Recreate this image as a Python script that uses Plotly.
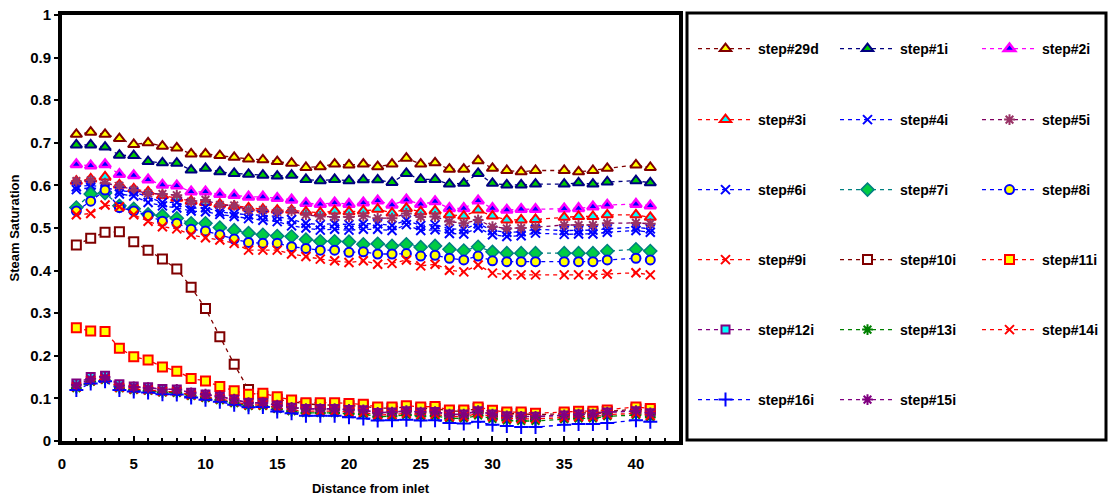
import plotly.graph_objects as go

# distance positions with markers (34 and 39 have no points)
x_pos = list(range(1, 34)) + [35, 36, 37, 38, 40, 41]

names = ["step#29d", "step#1i", "step#2i", "step#3i", "step#4i", "step#5i",
         "step#6i", "step#7i", "step#8i", "step#9i", "step#10i", "step#11i",
         "step#12i", "step#13i", "step#14i", "step#16i", "step#15i"]

step29d = [0.720,0.725,0.720,0.710,0.696,0.700,0.692,0.688,0.674,0.674,0.670,0.666,0.662,0.660,
           0.656,0.652,0.642,0.644,0.650,0.648,0.650,0.644,0.650,0.664,0.650,0.653,0.638,0.638,
           0.658,0.640,0.635,0.632,0.635, 0.635,0.632,0.635,0.640, 0.648,0.642]
step1i = [0.695,0.695,0.690,0.671,0.670,0.656,0.653,0.652,0.636,0.640,0.632,0.628,0.626,0.624,
          0.622,0.624,0.614,0.611,0.614,0.611,0.613,0.613,0.607,0.628,0.614,0.614,0.603,0.605,
          0.628,0.605,0.601,0.601,0.603, 0.603,0.606,0.603,0.608, 0.611,0.606]
step2i = [0.649,0.646,0.649,0.626,0.623,0.613,0.601,0.599,0.585,0.585,0.579,0.577,0.573,0.573,
          0.570,0.566,0.558,0.556,0.559,0.556,0.559,0.564,0.554,0.566,0.556,0.562,0.546,0.546,
          0.564,0.546,0.542,0.544,0.544, 0.545,0.546,0.550,0.554, 0.556,0.552]
step3i = [0.610,0.615,0.620,0.601,0.592,0.585,0.576,0.570,0.563,0.560,0.556,0.551,0.547,0.544,
          0.542,0.542,0.538,0.536,0.540,0.538,0.540,0.544,0.535,0.546,0.538,0.540,0.531,0.528,
          0.542,0.528,0.519,0.519,0.520, 0.525,0.527,0.527,0.531, 0.531,0.525]
step4i = [0.597,0.600,0.595,0.587,0.585,0.573,0.560,0.560,0.546,0.548,0.538,0.534,0.531,0.530,
          0.527,0.520,0.511,0.508,0.510,0.508,0.510,0.510,0.506,0.518,0.506,0.508,0.498,0.497,
          0.510,0.494,0.490,0.491,0.497, 0.494,0.494,0.495,0.498, 0.502,0.498]
step5i = [0.610,0.612,0.605,0.599,0.589,0.581,0.580,0.577,0.562,0.566,0.554,0.553,0.542,0.542,
          0.538,0.540,0.531,0.527,0.526,0.526,0.528,0.523,0.523,0.534,0.526,0.527,0.515,0.511,
          0.519,0.503,0.499,0.500,0.502, 0.507,0.507,0.507,0.511, 0.512,0.510]
step6i = [0.590,0.595,0.590,0.580,0.575,0.560,0.552,0.547,0.540,0.538,0.532,0.527,0.522,0.518,
          0.515,0.505,0.500,0.495,0.497,0.495,0.497,0.497,0.494,0.508,0.494,0.496,0.487,0.486,
          0.500,0.484,0.480,0.482,0.488, 0.485,0.486,0.486,0.490, 0.494,0.490]
step7i = [0.548,0.580,0.582,0.552,0.545,0.532,0.529,0.523,0.511,0.511,0.501,0.495,0.488,0.484,
          0.481,0.480,0.473,0.469,0.469,0.468,0.462,0.463,0.458,0.462,0.455,0.458,0.450,0.447,
          0.456,0.444,0.441,0.441,0.441, 0.441,0.441,0.441,0.446, 0.450,0.446]
step8i = [0.540,0.563,0.589,0.548,0.540,0.529,0.516,0.511,0.497,0.493,0.484,0.474,0.466,0.464,
          0.464,0.456,0.452,0.448,0.448,0.443,0.444,0.439,0.439,0.440,0.434,0.436,0.429,0.425,
          0.434,0.423,0.421,0.421,0.421, 0.421,0.421,0.421,0.425, 0.429,0.425]
step9i = [0.531,0.534,0.554,0.550,0.531,0.516,0.503,0.498,0.484,0.477,0.472,0.464,0.448,0.448,
          0.448,0.439,0.433,0.427,0.423,0.419,0.423,0.415,0.417,0.425,0.411,0.415,0.401,0.397,
          0.413,0.394,0.390,0.390,0.390, 0.390,0.390,0.390,0.392, 0.395,0.390]
step10i = [0.460,0.476,0.490,0.491,0.468,0.448,0.427,0.404,0.361,0.311,0.245,0.180,0.121,0.105,
           0.098,0.092,0.087,0.085,0.084,0.083,0.082,0.077,0.077,0.080,0.076,0.077,0.070,0.070,
           0.076,0.068,0.064,0.064,0.062, 0.064,0.066,0.066,0.069, 0.075,0.072]
step11i = [0.266,0.258,0.257,0.218,0.198,0.190,0.174,0.164,0.147,0.141,0.128,0.118,0.110,0.112,
           0.104,0.096,0.090,0.090,0.090,0.088,0.086,0.080,0.080,0.083,0.080,0.081,0.073,0.073,
           0.080,0.072,0.068,0.068,0.065, 0.068,0.070,0.070,0.073, 0.080,0.076]
step12i = [0.135,0.150,0.153,0.133,0.128,0.126,0.122,0.121,0.113,0.109,0.104,0.097,0.089,0.089,
           0.083,0.078,0.075,0.075,0.075,0.073,0.072,0.066,0.067,0.070,0.067,0.068,0.062,0.062,
           0.070,0.062,0.058,0.057,0.057, 0.060,0.062,0.062,0.067, 0.070,0.065]
step13i = [0.124,0.139,0.143,0.124,0.120,0.118,0.114,0.113,0.106,0.101,0.096,0.089,0.082,0.082,
           0.075,0.070,0.066,0.066,0.066,0.064,0.063,0.057,0.058,0.061,0.058,0.059,0.053,0.053,
           0.060,0.052,0.048,0.047,0.047, 0.051,0.053,0.053,0.058, 0.061,0.056]
step14i = [0.127,0.142,0.146,0.126,0.122,0.120,0.116,0.116,0.108,0.104,0.099,0.092,0.085,0.085,
           0.078,0.073,0.070,0.070,0.070,0.068,0.067,0.061,0.062,0.065,0.062,0.063,0.057,0.057,
           0.065,0.057,0.053,0.052,0.052, 0.055,0.057,0.057,0.062, 0.065,0.060]
step16i = [0.120,0.135,0.140,0.120,0.116,0.114,0.110,0.109,0.102,0.097,0.092,0.085,0.079,0.080,
           0.069,0.065,0.059,0.059,0.059,0.056,0.053,0.048,0.049,0.050,0.048,0.049,0.042,0.041,
           0.045,0.038,0.035,0.033,0.033, 0.038,0.040,0.040,0.042, 0.049,0.045]
step15i = [0.132,0.146,0.150,0.130,0.127,0.125,0.121,0.121,0.113,0.110,0.105,0.098,0.090,0.090,
           0.084,0.079,0.076,0.076,0.076,0.074,0.073,0.067,0.068,0.071,0.068,0.069,0.063,0.063,
           0.071,0.063,0.059,0.058,0.058, 0.061,0.063,0.063,0.068, 0.071,0.066]

series = [step29d, step1i, step2i, step3i, step4i, step5i, step6i, step7i, step8i,
          step9i, step10i, step11i, step12i, step13i, step14i, step16i, step15i]

x_ticks = [0, 5, 10, 15, 20, 25, 30, 35, 40]
y_ticks = [0, 0.1, 0.2, 0.3, 0.4, 0.5, 0.6, 0.7, 0.8, 0.9, 1]
y_labels = ["0", "0.1", "0.2", "0.3", "0.4", "0.5", "0.6", "0.7", "0.8", "0.9", "1"]

# style: (line color, symbol, fill color, outline color, size, outline width)
styles = [
    ("#800000", "triangle-up", "#FFFF00", "#800000", 10, 2),
    ("#000080", "triangle-up", "#00CC00", "#000080", 10, 2),
    ("#FF00FF", "triangle-up", "#0000FF", "#FF00FF", 10, 2.5),
    ("#FF0000", "triangle-up", "#00FFFF", "#FF0000", 10, 2),
    ("#0000FF", "x-thin-open", "#0000FF", "#0000FF", 9, 2),
    ("#800060", "asterisk-open", "#993366", "#993366", 9, 2),
    ("#0000FF", "x-thin-open", "#0000FF", "#0000FF", 9, 2),
    ("#008080", "diamond", "#00CC44", "#008080", 10, 1.5),
    ("#0000FF", "circle", "#FFFF00", "#0000FF", 9, 2),
    ("#FF0000", "x-thin-open", "#FF0000", "#FF0000", 9, 2),
    ("#800000", "square", "#FFFFFF", "#800000", 9, 2),
    ("#FF0000", "square", "#FFFF00", "#FF0000", 9, 2),
    ("#800080", "square", "#00FFFF", "#800080", 8, 2),
    ("#008000", "asterisk-open", "#008000", "#008000", 9, 2),
    ("#FF0000", "x-thin-open", "#FF0000", "#FF0000", 9, 2),
    ("#0000FF", "cross-thin-open", "#0000FF", "#0000FF", 10, 2),
    ("#800080", "asterisk-open", "#800080", "#800080", 9, 2),
]

legend_ids = ["legend", "legend2", "legend3", "legend4", "legend5", "legend6"]

fig = go.Figure()
for i, (nm, ys, st) in enumerate(zip(names, series, styles)):
    lc, sym, fc, oc, sz, ow = st
    marker = dict(symbol=sym, size=sz, color=fc, line=dict(color=oc, width=ow))
    fig.add_trace(go.Scatter(
        x=x_pos, y=ys, name=nm, mode="lines+markers",
        line=dict(color=lc, width=1.3, dash="4px,4px"),
        marker=marker,
        legend=legend_ids[i // 3],
    ))

FONT = "Liberation Sans, Arial, sans-serif"
L, R, T, B = 62, 430, 15, 57
W, H = 1109, 498
pw, ph = W - L - R, H - T - B

def px_x(p):
    return (p - L) / pw

def px_y(p):
    return (H - B - p) / ph

row_y = [49, 120, 190, 260, 330, 400]
legend_layout = {}
for k, lid in enumerate(legend_ids):
    legend_layout[lid] = dict(
        orientation="h", x=px_x(693), y=px_y(row_y[k]), xanchor="left", yanchor="middle",
        entrywidth=72, entrywidthmode="pixels", itemwidth=55,
        font=dict(family=FONT, size=14, color="black", weight="bold"),
        bgcolor="rgba(0,0,0,0)", borderwidth=0, traceorder="normal",
    )

fig.update_layout(
    width=W, height=H,
    margin=dict(l=L, r=R, t=T, b=B, autoexpand=False),
    paper_bgcolor="white", plot_bgcolor="white",
    showlegend=True,
    font=dict(family=FONT, color="black", weight="bold"),
    xaxis=dict(
        range=[0, 43], tickvals=x_ticks, ticktext=[str(v) for v in x_ticks],
        showgrid=False, zeroline=False,
        showline=True, linecolor="black", linewidth=4, mirror=True,
        ticks="inside", ticklen=5, tickwidth=2, tickcolor="black",
        minor=dict(dtick=1, ticks="inside", ticklen=3, tickwidth=2, tickcolor="black"),
        ticklabelstandoff=6,
        tickfont=dict(family=FONT, size=15, color="black", weight="bold"),
        title=dict(text="Distance from inlet", standoff=14,
                   font=dict(family=FONT, size=13, color="black", weight="bold")),
        automargin=False,
    ),
    yaxis=dict(
        range=[0, 1], tickvals=y_ticks, ticktext=y_labels,
        showgrid=False, zeroline=False,
        showline=True, linecolor="black", linewidth=4, mirror=True,
        ticks="outside", ticklen=4, tickwidth=2, tickcolor="black",
        tickfont=dict(family=FONT, size=15, color="black", weight="bold"),
        title=dict(text="Steam Saturation", standoff=9,
                   font=dict(family=FONT, size=13, color="black", weight="bold")),
        automargin=False,
    ),
    **legend_layout,
)

# legend frame
fig.add_shape(type="rect", xref="paper", yref="paper",
              x0=px_x(687), x1=px_x(1106), y0=px_y(440), y1=px_y(13),
              line=dict(color="black", width=3), fillcolor="rgba(0,0,0,0)", layer="below")

fig.write_html("out.html")
